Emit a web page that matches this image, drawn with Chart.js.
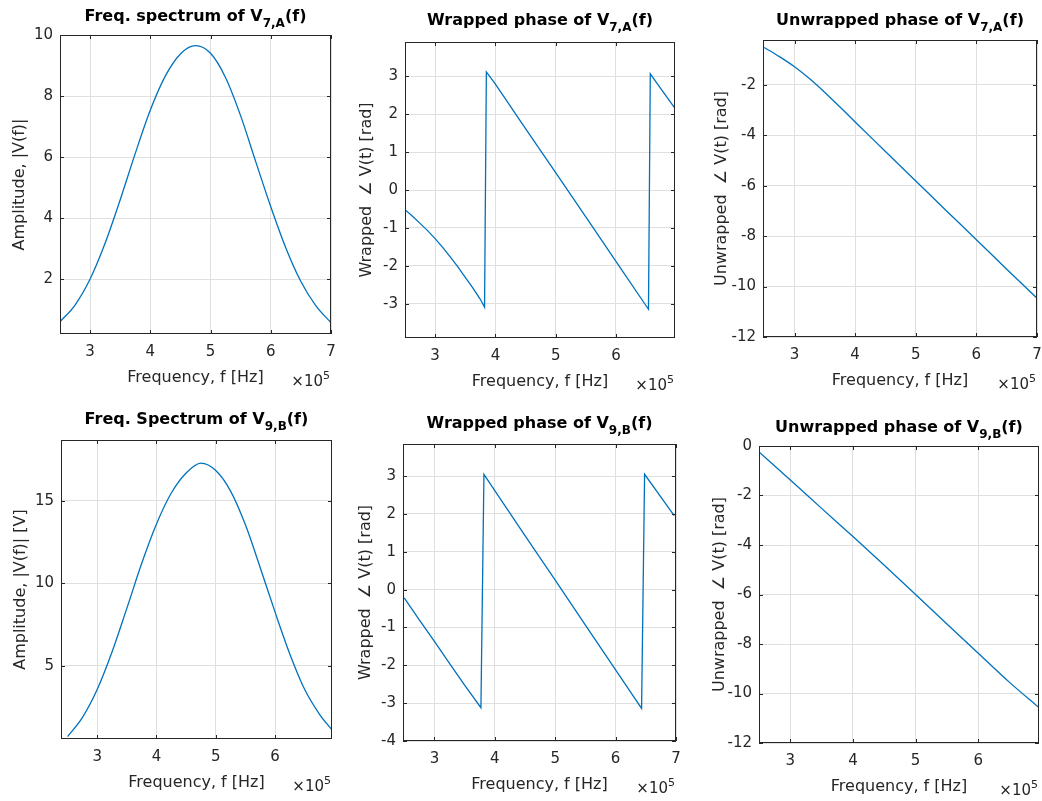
<!DOCTYPE html>
<html>
<head>
<meta charset="utf-8">
<script src="https://cdn.jsdelivr.net/npm/chart.js@4.4.1/dist/chart.umd.min.js"></script>
<style>
  body { margin: 0; background: #fff; width: 1042px; height: 801px; overflow: hidden; position: relative; }
  canvas { position: absolute; }
</style>
</head>
<body>
<script>
// frequency samples (x 1e5 Hz) and values read for each subplot

// |V7,A(f)|
const fAmpA = [2.5, 2.75, 3.0, 3.25, 3.5, 3.75, 4.0, 4.25, 4.5, 4.75, 5.0, 5.25, 5.5, 5.75, 6.0, 6.25, 6.5, 6.75, 7.0];
const ampA  = [0.60, 1.15, 2.00, 3.18, 4.60, 6.12, 7.54, 8.66, 9.38, 9.65, 9.40, 8.60, 7.35, 5.85, 4.37, 3.02, 1.92, 1.12, 0.57];

// wrapped / unwrapped phase of V7,A
const fWrapA = [2.5, 2.625, 2.75, 2.875, 3.0, 3.125, 3.25, 3.375, 3.5, 3.625, 3.75, 3.82, 3.85, 4.0, 4.5, 5.0, 5.5, 6.0, 6.5, 6.54, 6.57, 6.75, 6.98];
const wrapA  = [-0.52, -0.69, -0.88, -1.07, -1.28, -1.51, -1.76, -2.02, -2.30, -2.58, -2.88, -3.09, 3.11, 2.79, 1.62, 0.46, -0.71, -1.88, -3.05, -3.14, 3.06, 2.66, 2.15];
const fUnwrapA = [2.5, 2.75, 3.0, 3.25, 3.5, 3.75, 4.0, 4.5, 5.0, 5.5, 6.0, 6.5, 7.0];
const unwrapA  = [-0.52, -0.88, -1.28, -1.76, -2.30, -2.88, -3.47, -4.64, -5.81, -6.98, -8.14, -9.31, -10.46];

// |V9,B(f)|
const fAmpB = [2.5, 2.75, 3.0, 3.25, 3.5, 3.75, 4.0, 4.25, 4.5, 4.75, 5.0, 5.25, 5.5, 5.75, 6.0, 6.25, 6.5, 6.75, 6.96];
const ampB  = [0.70, 1.85, 3.55, 5.83, 8.48, 11.20, 13.60, 15.48, 16.70, 17.30, 16.85, 15.60, 13.55, 10.95, 8.25, 5.70, 3.55, 2.05, 1.10];

// wrapped / unwrapped phase of V9,B
const fWrapB = [2.5, 2.75, 3.0, 3.25, 3.5, 3.77, 3.82, 4.0, 4.5, 5.0, 5.5, 6.0, 6.43, 6.48, 6.97];
const wrapB  = [-0.22, -0.80, -1.37, -1.95, -2.52, -3.12, 3.05, 2.62, 1.43, 0.25, -0.94, -2.12, -3.14, 3.05, 1.96];
const fUnwrapB = [2.5, 3.0, 3.5, 4.0, 4.5, 5.0, 5.5, 6.0, 6.5, 6.97];
const unwrapB  = [-0.24, -1.37, -2.52, -3.66, -4.82, -6.00, -7.19, -8.37, -9.55, -10.57];

// tick values
const freqTicks = [3, 4, 5, 6, 7];
const ampATicks = [2, 4, 6, 8, 10];
const ampBTicks = [5, 10, 15];
const wrapATicks = [-3, -2, -1, 0, 1, 2, 3];
const wrapBTicks = [-4, -3, -2, -1, 0, 1, 2, 3];
const unwrapATicks = [-12, -10, -8, -6, -4, -2];
const unwrapBTicks = [-12, -10, -8, -6, -4, -2, 0];

Chart.defaults.font.family = '"DejaVu Sans", sans-serif';
Chart.defaults.color = '#262626';

const PAD_L = 62, PAD_T = 36, PAD_R = 14, PAD_B = 62;
const FONT = '"DejaVu Sans", sans-serif';

// axes box, inward ticks, title with subscript and the x10^5 note
const matlabAxes = {
  id: 'matlabAxes',
  afterDraw(chart, args, o) {
    const ctx = chart.ctx, a = chart.chartArea;
    const sx = chart.scales.x, sy = chart.scales.y;
    ctx.save();
    ctx.strokeStyle = '#262626';
    ctx.lineWidth = 1;
    ctx.beginPath();
    sx.ticks.forEach(t => {
      const p = Math.round(sx.getPixelForValue(t.value)) + 0.5;
      ctx.moveTo(p, a.top); ctx.lineTo(p, a.top + 4);
      ctx.moveTo(p, a.bottom); ctx.lineTo(p, a.bottom - 4);
    });
    sy.ticks.forEach(t => {
      const p = Math.round(sy.getPixelForValue(t.value)) + 0.5;
      ctx.moveTo(a.left, p); ctx.lineTo(a.left + 4, p);
      ctx.moveTo(a.right, p); ctx.lineTo(a.right - 4, p);
    });
    ctx.stroke();
    ctx.strokeRect(Math.round(a.left) + 0.5, Math.round(a.top) + 0.5,
      Math.round(a.right - a.left) - 1, Math.round(a.bottom - a.top) - 1);

    // title
    const big = 'bold 16px ' + FONT, small = 'bold 12px ' + FONT;
    ctx.font = big;
    const w1 = ctx.measureText(o.title).width, w3 = ctx.measureText('(f)').width;
    ctx.font = small;
    const w2 = ctx.measureText(o.sub).width;
    let tx = (a.left + a.right) / 2 - (w1 + w2 + w3) / 2;
    const ty = a.top - o.titleGap;
    ctx.fillStyle = '#000';
    ctx.textAlign = 'left';
    ctx.textBaseline = 'alphabetic';
    ctx.font = big; ctx.fillText(o.title, tx, ty); tx += w1;
    ctx.font = small; ctx.fillText(o.sub, tx, ty + 6); tx += w2;
    ctx.font = big; ctx.fillText('(f)', tx, ty);

    // exponent of the frequency axis
    ctx.fillStyle = '#262626';
    ctx.font = '15px ' + FONT;
    const we = ctx.measureText('\u00d710').width;
    ctx.font = '11px ' + FONT;
    const ws = ctx.measureText('5').width;
    const ex = a.right - ws - 1;
    ctx.font = '15px ' + FONT;
    ctx.fillText('\u00d710', ex - we, a.bottom + 52);
    ctx.font = '11px ' + FONT;
    ctx.fillText('5', ex, a.bottom + 45);
    ctx.restore();
  }
};

function pts(xs, ys) {
  return xs.map((x, i) => ({ x: x, y: ys[i] }));
}

function fixedTicks(list) {
  return function (scale) {
    scale.ticks = list
      .filter(v => v >= scale.min - 1e-9 && v <= scale.max + 1e-9)
      .map(v => ({ value: v }));
  };
}

function makePanel(p) {
  const cv = document.createElement('canvas');
  const w = p.box[2] - p.box[0] + PAD_L + PAD_R;
  const h = p.box[3] - p.box[1] + PAD_T + PAD_B;
  const left = p.box[0] - PAD_L, top = p.box[1] - PAD_T;
  cv.width = w; cv.height = h;
  cv.style.left = left + 'px';
  cv.style.top = top + 'px';
  cv.style.width = w + 'px';
  cv.style.height = h + 'px';
  document.body.appendChild(cv);

  new Chart(cv.getContext('2d'), {
    type: 'line',
    data: {
      datasets: [{
        data: pts(p.xs, p.ys),
        borderColor: '#0072BD',
        borderWidth: 1.3,
        pointRadius: 0,
        fill: false,
        tension: p.smooth ? 0.4 : 0,
        cubicInterpolationMode: p.smooth ? 'monotone' : 'default'
      }]
    },
    options: {
      responsive: false,
      animation: false,
      devicePixelRatio: 1,
      layout: { padding: { left: 0, top: PAD_T, right: PAD_R, bottom: 0 } },
      plugins: {
        legend: { display: false },
        tooltip: { enabled: false },
        matlabAxes: { title: p.title, sub: p.sub, titleGap: p.titleGap }
      },
      scales: {
        x: {
          type: 'linear',
          min: p.xr[0], max: p.xr[1],
          offset: false,
          afterBuildTicks: fixedTicks(freqTicks),
          afterFit: s => { s.height = PAD_B; s.paddingLeft = 0; s.paddingRight = 0; },
          grid: { color: '#dfdfdf', lineWidth: 1, drawTicks: false },
          border: { display: false },
          ticks: { padding: 9, font: { size: 15 }, color: '#262626', maxRotation: 0, autoSkip: false },
          title: {
            display: true, text: 'Frequency, f [Hz]',
            font: { size: 16 }, color: '#262626',
            padding: { top: 0, bottom: 8.4 }
          }
        },
        y: {
          min: p.yr[0], max: p.yr[1],
          afterBuildTicks: fixedTicks(p.yTicks),
          afterFit: s => { s.width = PAD_L; s.paddingTop = 0; s.paddingBottom = 0; },
          grid: { color: '#dfdfdf', lineWidth: 1, drawTicks: false },
          border: { display: false },
          ticks: { padding: 7, font: { size: 15 }, color: '#262626', autoSkip: false },
          title: {
            display: true, text: p.yLabel,
            font: { size: 16 }, color: '#262626',
            padding: { top: p.yTitleX - left - 9.6, bottom: 0 }
          }
        }
      }
    },
    plugins: [matlabAxes]
  });
}

const panels = [
  { box: [60, 35, 331, 334], xr: [2.5, 7], yr: [0.2, 10], yTicks: ampATicks,
    xs: fAmpA, ys: ampA, smooth: true, yLabel: 'Amplitude, |V(f)|', yTitleX: 20,
    title: 'Freq. spectrum of V', sub: '7,A', titleGap: 14 },
  { box: [405, 42, 675, 338], xr: [2.5, 6.98], yr: [-3.9, 3.9], yTicks: wrapATicks,
    xs: fWrapA, ys: wrapA, smooth: false, yLabel: 'Wrapped  \u2220 V(t) [rad]', yTitleX: 367,
    title: 'Wrapped phase of V', sub: '7,A', titleGap: 17 },
  { box: [763, 40, 1037, 337], xr: [2.48, 7], yr: [-12, -0.22], yTicks: unwrapATicks,
    xs: fUnwrapA, ys: unwrapA, smooth: true, yLabel: 'Unwrapped  \u2220 V(t) [rad]', yTitleX: 722,
    title: 'Unwrapped phase of V', sub: '7,A', titleGap: 15 },
  { box: [61, 440, 332, 739], xr: [2.39, 6.96], yr: [0.55, 18.7], yTicks: ampBTicks,
    xs: fAmpB, ys: ampB, smooth: true, yLabel: 'Amplitude, |V(f)| [V]', yTitleX: 21,
    title: 'Freq. Spectrum of V', sub: '9,B', titleGap: 16 },
  { box: [403, 444, 676, 741], xr: [2.48, 7], yr: [-4, 3.85], yTicks: wrapBTicks,
    xs: fWrapB, ys: wrapB, smooth: false, yLabel: 'Wrapped  \u2220 V(t) [rad]', yTitleX: 366,
    title: 'Wrapped phase of V', sub: '9,B', titleGap: 16 },
  { box: [759, 446, 1039, 743], xr: [2.5, 6.97], yr: [-12, 0], yTicks: unwrapBTicks,
    xs: fUnwrapB, ys: unwrapB, smooth: true, yLabel: 'Unwrapped  \u2220 V(t) [rad]', yTitleX: 720,
    title: 'Unwrapped phase of V', sub: '9,B', titleGap: 14 }
];

panels.forEach(makePanel);
</script>
</body>
</html>
